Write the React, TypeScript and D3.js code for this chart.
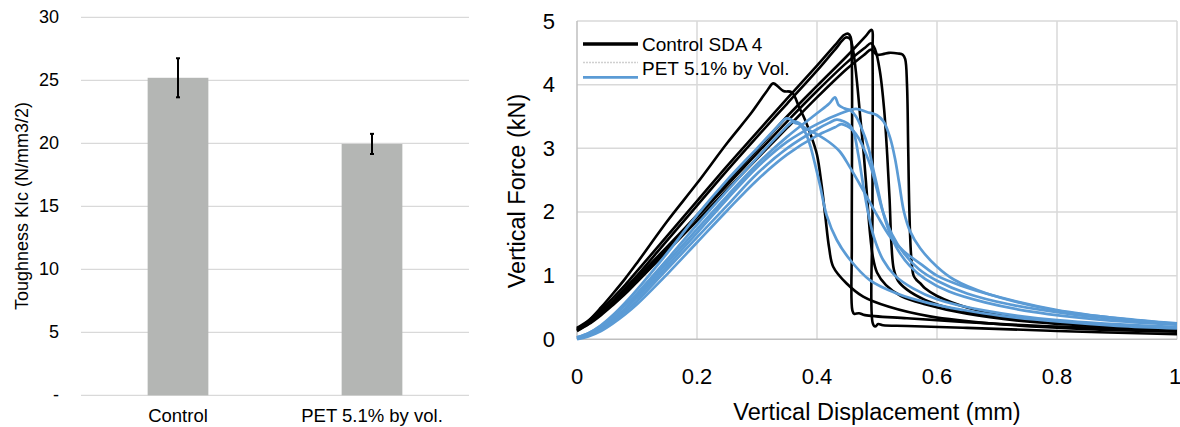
import React from "react";
import * as d3 from "d3";

// ---------- Left chart data ----------
const categories = ["Control", "PET 5.1% by vol."];
const toughness = [25.2, 19.95];
const toughnessErr = [1.55, 0.8];
const leftTicks = [0, 5, 10, 15, 20, 25, 30];

// ---------- Right chart data (displacement mm, force kN) ----------
const xTicksR = [0, 0.2, 0.4, 0.6, 0.8, 1];
const yTicksR = [0, 1, 2, 3, 4, 5];

const control1: [number, number][] = [
  [0, 0.15], [0.02, 0.3], [0.04, 0.5], [0.06, 0.72], [0.08, 0.95], [0.1, 1.2], [0.15, 1.85], [0.2, 2.45],
  [0.25, 3.08], [0.29, 3.55], [0.315, 3.88], [0.327, 4.02], [0.335, 3.97], [0.344, 3.9], [0.358, 3.88],
  [0.37, 3.65], [0.38, 3.45], [0.39, 3.2], [0.4, 2.9], [0.408, 2.4], [0.414, 1.92], [0.42, 1.45],
  [0.427, 1.14], [0.449, 0.88], [0.477, 0.67], [0.52, 0.51], [0.588, 0.36], [0.7, 0.24], [0.85, 0.16], [1.0, 0.12],
];
const control2: [number, number][] = [
  [0, 0.18], [0.02, 0.3], [0.04, 0.46], [0.06, 0.65], [0.08, 0.85], [0.1, 1.07], [0.15, 1.62], [0.2, 2.17],
  [0.25, 2.72], [0.3, 3.25], [0.35, 3.78], [0.4, 4.3], [0.43, 4.62], [0.445, 4.78], [0.452, 4.8], [0.456, 4.75],
  [0.458, 4.4], [0.458, 1.5], [0.459, 0.45], [0.462, 0.4], [0.47, 0.41], [0.48, 0.38], [0.55, 0.33],
  [0.65, 0.27], [0.8, 0.2], [1.0, 0.15],
];
const control3: [number, number][] = [
  [0, 0.15], [0.02, 0.27], [0.04, 0.42], [0.06, 0.6], [0.08, 0.8], [0.1, 1.0], [0.15, 1.55], [0.2, 2.1],
  [0.25, 2.65], [0.3, 3.18], [0.35, 3.7], [0.4, 4.22], [0.43, 4.55], [0.448, 4.74], [0.455, 4.72],
  [0.46, 4.55], [0.466, 4.1], [0.472, 3.5], [0.478, 2.9], [0.483, 2.3], [0.488, 1.7], [0.493, 1.3],
  [0.5, 1.05], [0.515, 0.85], [0.54, 0.68], [0.58, 0.55], [0.65, 0.4], [0.75, 0.28], [0.88, 0.2], [1.0, 0.15],
];
const control4: [number, number][] = [
  [0, 0.17], [0.02, 0.28], [0.04, 0.42], [0.06, 0.58], [0.08, 0.77], [0.1, 0.97], [0.15, 1.45], [0.2, 1.95],
  [0.25, 2.47], [0.3, 2.98], [0.35, 3.5], [0.4, 3.98], [0.45, 4.45], [0.48, 4.75], [0.491, 4.86],
  [0.4925, 4.5], [0.4925, 2.0], [0.493, 0.25], [0.497, 0.2], [0.502, 0.24], [0.51, 0.22], [0.55, 0.21],
  [0.65, 0.18], [0.8, 0.13], [1.0, 0.08],
];
const control5: [number, number][] = [
  [0, 0.14], [0.02, 0.25], [0.04, 0.4], [0.06, 0.56], [0.08, 0.74], [0.1, 0.93], [0.15, 1.42], [0.2, 1.92],
  [0.25, 2.42], [0.3, 2.92], [0.35, 3.42], [0.4, 3.9], [0.45, 4.35], [0.48, 4.58], [0.49, 4.65],
  [0.497, 4.55], [0.505, 4.2], [0.512, 3.6], [0.517, 2.9], [0.521, 2.2], [0.524, 1.5], [0.528, 1.1],
  [0.535, 0.92], [0.55, 0.78], [0.58, 0.62], [0.63, 0.47], [0.72, 0.33], [0.85, 0.23], [1.0, 0.16],
];
const control6: [number, number][] = [
  [0, 0.13], [0.02, 0.24], [0.04, 0.38], [0.06, 0.54], [0.08, 0.71], [0.1, 0.9], [0.15, 1.38], [0.2, 1.86],
  [0.25, 2.35], [0.3, 2.84], [0.35, 3.32], [0.4, 3.8], [0.45, 4.25], [0.48, 4.48], [0.49, 4.55],
  [0.5, 4.47], [0.51, 4.48], [0.52, 4.5], [0.535, 4.49], [0.543, 4.47], [0.547, 4.4], [0.55, 4.0],
  [0.552, 3.0], [0.554, 2.0], [0.557, 1.3], [0.561, 1.0], [0.567, 0.92], [0.572, 0.88], [0.58, 0.8],
  [0.6, 0.68], [0.65, 0.5], [0.72, 0.37], [0.85, 0.25], [1.0, 0.18],
];

const pet1: [number, number][] = [
  [0, 0.03], [0.02, 0.1], [0.04, 0.22], [0.06, 0.38], [0.08, 0.57], [0.1, 0.78], [0.15, 1.35], [0.2, 1.95],
  [0.25, 2.5], [0.3, 3.0], [0.33, 3.3], [0.349, 3.47], [0.357, 3.45], [0.363, 3.4], [0.37, 3.38],
  [0.376, 3.32], [0.383, 3.2], [0.39, 3.0], [0.398, 2.7], [0.405, 2.42], [0.416, 1.95], [0.433, 1.56],
  [0.455, 1.25], [0.488, 0.93], [0.533, 0.72], [0.588, 0.565], [0.644, 0.46], [0.705, 0.37],
  [0.8, 0.28], [0.9, 0.21], [1.0, 0.17],
];
const pet2: [number, number][] = [
  [0, 0.02], [0.02, 0.08], [0.04, 0.18], [0.06, 0.32], [0.08, 0.48], [0.1, 0.68], [0.15, 1.2], [0.2, 1.73],
  [0.25, 2.25], [0.3, 2.75], [0.35, 3.18], [0.4, 3.55], [0.42, 3.7], [0.43, 3.8], [0.436, 3.68],
  [0.445, 3.63], [0.455, 3.6], [0.465, 3.5], [0.475, 3.3], [0.486, 3.0], [0.493, 2.7], [0.5, 2.42],
  [0.51, 2.0], [0.52, 1.7], [0.535, 1.4], [0.555, 1.15], [0.58, 0.95], [0.62, 0.75], [0.68, 0.58],
  [0.76, 0.43], [0.88, 0.3], [1.0, 0.23],
];
const pet3: [number, number][] = [
  [0, 0.02], [0.02, 0.07], [0.04, 0.17], [0.06, 0.31], [0.08, 0.47], [0.1, 0.65], [0.15, 1.15], [0.2, 1.67],
  [0.25, 2.2], [0.3, 2.7], [0.35, 3.1], [0.4, 3.38], [0.44, 3.55], [0.465, 3.62], [0.483, 3.57],
  [0.5, 3.52], [0.511, 3.42], [0.522, 3.16], [0.53, 2.84], [0.537, 2.45], [0.545, 2.0], [0.555, 1.7],
  [0.572, 1.43], [0.6, 1.14], [0.628, 0.94], [0.683, 0.72], [0.794, 0.46], [0.905, 0.33], [1.0, 0.25],
];
const pet4: [number, number][] = [
  [0, 0.01], [0.02, 0.06], [0.04, 0.15], [0.06, 0.28], [0.08, 0.43], [0.1, 0.6], [0.15, 1.1], [0.2, 1.6],
  [0.25, 2.1], [0.3, 2.6], [0.35, 3.0], [0.4, 3.3], [0.42, 3.4], [0.433, 3.45], [0.445, 3.42],
  [0.455, 3.36], [0.461, 3.26], [0.469, 2.89], [0.477, 2.42], [0.485, 2.0], [0.495, 1.6], [0.51, 1.25],
  [0.53, 1.0], [0.56, 0.8], [0.6, 0.63], [0.68, 0.45], [0.8, 0.3], [1.0, 0.19],
];
const pet5: [number, number][] = [
  [0, 0.0], [0.02, 0.05], [0.04, 0.13], [0.06, 0.25], [0.08, 0.39], [0.1, 0.55], [0.15, 1.02], [0.2, 1.52],
  [0.25, 2.02], [0.3, 2.5], [0.35, 2.9], [0.4, 3.2], [0.43, 3.33], [0.44, 3.38], [0.45, 3.35],
  [0.46, 3.28], [0.47, 3.15], [0.48, 2.95], [0.49, 2.7], [0.5, 2.35], [0.51, 2.0], [0.525, 1.65],
  [0.545, 1.35], [0.57, 1.1], [0.6, 0.92], [0.65, 0.72], [0.72, 0.55], [0.82, 0.4], [0.92, 0.3], [1.0, 0.24],
];
const pet6: [number, number][] = [
  [0, 0.03], [0.02, 0.1], [0.04, 0.21], [0.06, 0.36], [0.08, 0.53], [0.1, 0.72], [0.15, 1.25], [0.2, 1.8],
  [0.25, 2.33], [0.3, 2.85], [0.34, 3.25], [0.36, 3.42], [0.37, 3.4], [0.38, 3.32], [0.4, 3.22],
  [0.42, 3.1], [0.438, 2.95], [0.455, 2.7], [0.477, 2.34], [0.5, 1.95], [0.522, 1.61], [0.545, 1.38],
  [0.572, 1.19], [0.6, 1.0], [0.638, 0.85], [0.705, 0.66], [0.8, 0.46], [0.9, 0.33], [1.0, 0.24],
];

const controlSeries = [control1, control2, control3, control4, control5, control6];
const petSeries = [pet1, pet2, pet3, pet4, pet5, pet6];

const FONT = "'Liberation Sans', Arial, Helvetica, sans-serif";
const GRID = "#d9d9d9";
const AXIS = "#bfbfbf";
const BLUE = "#5b9bd5";

export default function App() {
  // Left chart scales
  const yL = d3.scaleLinear().domain([0, 30]).range([395.3, 17.3]);
  const xL = d3.scaleBand<string>().domain(categories).range([81, 469]).paddingInner(0).paddingOuter(0);
  const barW = xL.bandwidth() * 0.313;

  // Right chart scales
  const xR = d3.scaleLinear().domain([0, 1]).range([577, 1177]);
  const yR = d3.scaleLinear().domain([0, 5]).range([339.3, 21]);
  const line = d3
    .line<[number, number]>()
    .x((d) => xR(d[0]))
    .y((d) => yR(d[1]))
    .curve(d3.curveCatmullRom.alpha(0.5));

  return (
    <svg
      width={1180}
      height={427}
      style={{ position: "absolute", left: 0, top: 0, background: "#fff" }}
      fontFamily={FONT}
    >
      <rect x={0} y={0} width={1180} height={427} fill="#fff" />
      {/* ---------------- Left chart ---------------- */}
      <g>
        {leftTicks.map((t) => (
          <g key={t}>
            <line x1={81} x2={469} y1={yL(t)} y2={yL(t)} stroke={GRID} strokeWidth={1.2} />
            <text x={59} y={yL(t)} textAnchor="end" dominantBaseline="central" fontSize={18} fill="#000">
              {t === 0 ? "-" : t}
            </text>
          </g>
        ))}
        {categories.map((c, i) => {
          const cx = (xL(c) as number) + xL.bandwidth() / 2;
          return (
            <g key={c}>
              <rect x={cx - barW / 2} y={yL(toughness[i])} width={barW} height={yL(0) - yL(toughness[i])} fill="#b4b6b4" />
              <line x1={cx} x2={cx} y1={yL(toughness[i] + toughnessErr[i])} y2={yL(toughness[i] - toughnessErr[i])} stroke="#000" strokeWidth={2} />
              <line x1={cx - 2} x2={cx + 2} y1={yL(toughness[i] + toughnessErr[i])} y2={yL(toughness[i] + toughnessErr[i])} stroke="#000" strokeWidth={2} />
              <line x1={cx - 2} x2={cx + 2} y1={yL(toughness[i] - toughnessErr[i])} y2={yL(toughness[i] - toughnessErr[i])} stroke="#000" strokeWidth={2} />
              <text x={cx} y={422} textAnchor="middle" fontSize={18.5} fill="#000">
                {c}
              </text>
            </g>
          );
        })}
        <text
          transform={`translate(22,206) rotate(-90)`}
          textAnchor="middle"
          dominantBaseline="central"
          fontSize={18}
          fill="#000"
        >
          Toughness KIc (N/mm3/2)
        </text>
      </g>

      {/* ---------------- Right chart ---------------- */}
      <g>
        {xTicksR.map((t) => (
          <g key={"x" + t}>
            {t > 0 && <line x1={xR(t)} x2={xR(t)} y1={yR(5)} y2={yR(0)} stroke={GRID} strokeWidth={1.5} />}
            <text x={t === 1 ? xR(t) - 2 : xR(t)} y={384} textAnchor="middle" fontSize={22} fill="#000">
              {t}
            </text>
          </g>
        ))}
        {yTicksR.map((t) => (
          <g key={"y" + t}>
            {t > 0 && <line x1={xR(0)} x2={xR(1)} y1={yR(t)} y2={yR(t)} stroke={GRID} strokeWidth={1.5} />}
            <text x={555} y={yR(t)} textAnchor="end" dominantBaseline="central" fontSize={22} fill="#000">
              {t}
            </text>
          </g>
        ))}
        <line x1={xR(0)} x2={xR(0)} y1={yR(5)} y2={yR(0)} stroke={AXIS} strokeWidth={1.5} />
        <line x1={xR(0)} x2={xR(1)} y1={yR(0)} y2={yR(0)} stroke={AXIS} strokeWidth={1.5} />

        {controlSeries.map((s, i) => (
          <path key={"c" + i} d={line(s) as string} fill="none" stroke="#000" strokeWidth={2.6} strokeLinejoin="round" />
        ))}
        {petSeries.map((s, i) => (
          <path key={"p" + i} d={line(s) as string} fill="none" stroke={BLUE} strokeWidth={2.7} strokeLinejoin="round" />
        ))}

        {/* legend */}
        <line x1={583} x2={638} y1={44} y2={44} stroke="#000" strokeWidth={3.5} />
        <line x1={583} x2={638} y1={62.5} y2={62.5} stroke="#d0d0d0" strokeWidth={1.5} strokeDasharray="2,1" />
        <line x1={583} x2={638} y1={77.3} y2={77.3} stroke={BLUE} strokeWidth={2.8} />
        <text x={642} y={44} dominantBaseline="central" fontSize={19} fill="#000">
          Control SDA 4
        </text>
        <text x={642} y={68} dominantBaseline="central" fontSize={19} fill="#000">
          PET 5.1% by Vol.
        </text>

        <text x={877} y={420} textAnchor="middle" fontSize={23.5} fill="#000">
          Vertical Displacement (mm)
        </text>
        <text
          transform={`translate(517,191) rotate(-90)`}
          textAnchor="middle"
          dominantBaseline="central"
          fontSize={23.5}
          fill="#000"
        >
          Vertical Force (kN)
        </text>
      </g>
    </svg>
  );
}
